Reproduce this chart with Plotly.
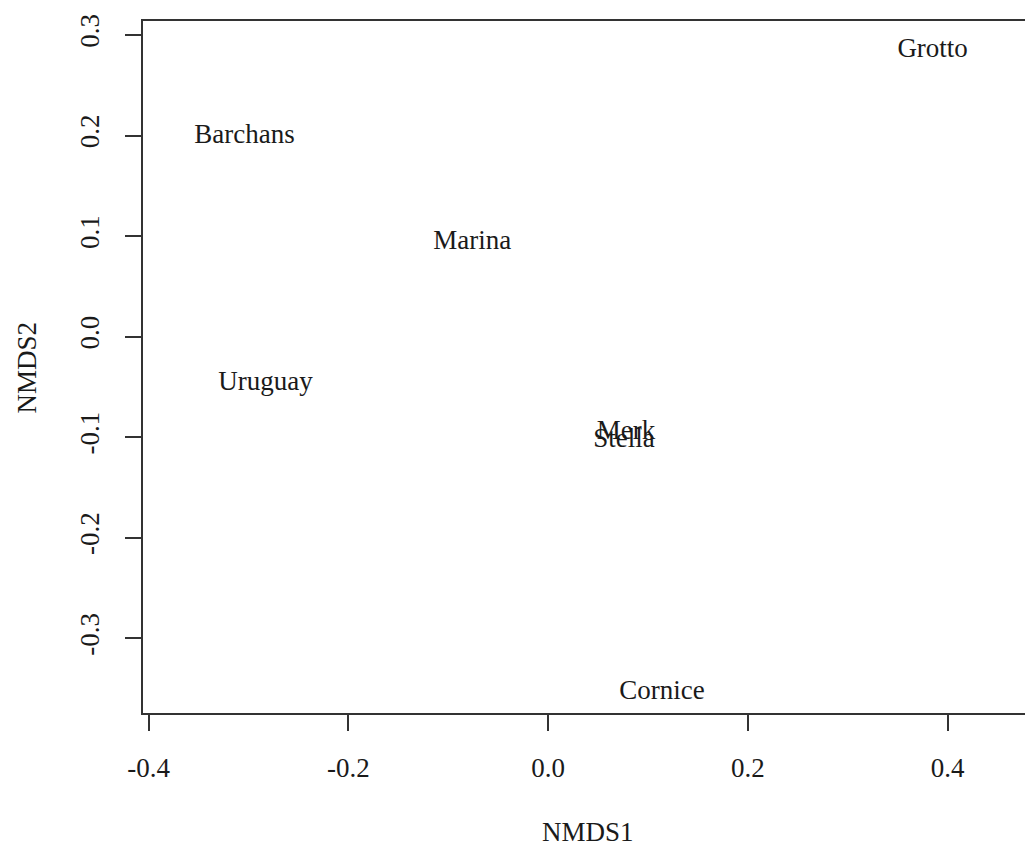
import plotly.graph_objects as go

sites = ["Grotto", "Barchans", "Marina", "Uruguay", "Merk", "Stella", "Cornice"]
nmds1 = [0.385, -0.304, -0.076, -0.283, 0.078, 0.076, 0.114]
nmds2 = [0.285, 0.1995, 0.094, -0.046, -0.095, -0.103, -0.354]

x_ticks = [-0.4, -0.2, 0.0, 0.2, 0.4]
x_ticklabels = ["-0.4", "-0.2", "0.0", "0.2", "0.4"]
y_ticks = [-0.3, -0.2, -0.1, 0.0, 0.1, 0.2, 0.3]
y_ticklabels = ["-0.3", "-0.2", "-0.1", "0.0", "0.1", "0.2", "0.3"]

FONT = "Liberation Serif, Times New Roman, serif"
FS = 27
TXT = "#1a1a1a"
LINE = "#333333"

fig = go.Figure(
    go.Scatter(
        x=nmds1, y=nmds2, mode="text", text=sites,
        textposition="middle center",
        textfont=dict(family=FONT, size=FS, color=TXT),
        hoverinfo="skip", showlegend=False,
    )
)

fig.update_layout(
    width=1025, height=848,
    margin=dict(l=143, r=0, t=21, b=135, pad=0),
    plot_bgcolor="white", paper_bgcolor="white",
    font=dict(family=FONT, size=FS, color=TXT),
    xaxis=dict(
        range=[-0.4057, 0.4775], tickvals=x_ticks, ticktext=x_ticklabels,
        showgrid=False, zeroline=False, showline=True, linecolor=LINE, linewidth=1.5,
        mirror=True, ticks="outside", ticklen=16, tickwidth=1.5, tickcolor=LINE,
        ticklabelstandoff=14, tickfont=dict(family=FONT, size=FS, color=TXT),
    ),
    yaxis=dict(
        range=[-0.3743, 0.3139], tickvals=y_ticks, ticktext=y_ticklabels,
        showgrid=False, zeroline=False, showline=True, linecolor=LINE, linewidth=1.5,
        mirror=False, ticks="outside", ticklen=16, tickwidth=1.5, tickcolor=LINE,
        tickangle=-90, ticklabelstandoff=15, tickfont=dict(family=FONT, size=FS, color=TXT),
    ),
    annotations=[
        dict(text="NMDS1", xref="paper", yref="paper", x=0.5047, y=-0.1725,
             xanchor="center", yanchor="middle", showarrow=False,
             font=dict(family=FONT, size=FS, color=TXT)),
        dict(text="NMDS2", xref="paper", yref="paper", x=-0.1311, y=0.4998,
             xanchor="center", yanchor="middle", showarrow=False, textangle=-90,
             font=dict(family=FONT, size=FS, color=TXT)),
    ],
)

fig.write_html("out.html")
